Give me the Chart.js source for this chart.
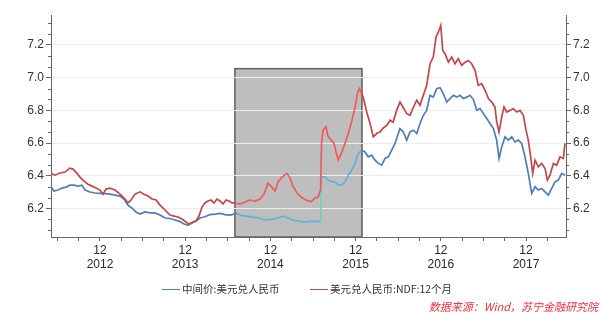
<!DOCTYPE html>
<html><head><meta charset="utf-8">
<script src="https://cdn.jsdelivr.net/npm/chart.js@4.4.1/dist/chart.umd.min.js"></script>
<style>
html,body{margin:0;padding:0;background:#fff;}
#wrap{position:relative;width:600px;height:317px;overflow:hidden;background:#fff;}
canvas{position:absolute;left:0;top:0;}
.leg{position:absolute;top:282px;font-size:10.5px;font-family:"Noto Sans CJK SC",sans-serif;color:#333;white-space:nowrap;line-height:14px;}
.leg i{display:inline-block;width:18px;height:0;border-top:1.5px solid;vertical-align:middle;margin-right:2px;position:relative;top:-1px;}
#src{position:absolute;right:2px;top:299px;font-size:11px;font-style:italic;font-family:"Noto Sans CJK SC",sans-serif;color:#e8323c;line-height:14px;white-space:nowrap;}
</style></head>
<body>
<div id="wrap">
<canvas id="c" width="600" height="317"></canvas>
<div class="leg" id="leg0" style="left:162px"></div>
<div class="leg" id="leg1" style="left:310px"></div>
<div id="src">数据来源：Wind，苏宁金融研究院</div>
</div>
<script>
// x unit: months since Jan 2012 (0 = Jan 2012)
const seriesNames = ['中间价:美元兑人民币', '美元兑人民币:NDF:12个月'];

const midX = [4.10,4.52,5.08,5.65,6.21,6.77,7.34,7.90,8.46,8.89,9.59,10.30,11.00,11.70,12.41,13.11,13.82,14.38,14.94,15.51,16.07,16.63,17.34,18.04,18.75,19.45,20.15,20.86,21.56,22.27,22.83,23.39,23.96,24.52,25.08,25.79,26.49,27.20,27.90,28.61,29.31,29.87,30.29,31.00,31.70,32.41,33.11,33.96,34.66,35.37,36.07,36.77,37.20,37.76,38.46,39.17,39.87,40.58,41.28,42.06,42.23,42.69,43.11,43.63,44.10,44.56,45.04,45.51,45.97,46.45,46.92,47.38,47.86,48.32,48.79,49.27,49.73,50.20,50.68,51.14,51.61,52.08,52.55,53.01,53.25,53.72,54.20,54.66,55.13,55.61,56.07,56.54,57.01,57.48,57.94,58.42,58.89,59.35,59.83,60.30,60.76,61.24,61.70,62.17,62.65,63.11,63.58,64.06,64.52,65.00,65.47,65.93,66.41,66.87,67.20,67.58,68.04,68.51,68.99,69.45,69.92,70.39,70.86,71.32,71.80,72.27,72.73,73.21,73.68,74.14,74.62,75.08,75.55,76.03,76.49];
const midY = [6.333,6.307,6.313,6.325,6.331,6.343,6.343,6.337,6.343,6.313,6.301,6.295,6.293,6.291,6.288,6.282,6.276,6.258,6.221,6.203,6.179,6.166,6.179,6.173,6.173,6.160,6.142,6.139,6.130,6.120,6.105,6.099,6.112,6.124,6.142,6.150,6.163,6.166,6.170,6.163,6.160,6.166,6.170,6.157,6.154,6.148,6.145,6.133,6.130,6.136,6.142,6.154,6.148,6.136,6.127,6.121,6.118,6.121,6.121,6.120,6.394,6.394,6.374,6.363,6.363,6.343,6.343,6.363,6.404,6.435,6.476,6.537,6.557,6.546,6.516,6.526,6.496,6.476,6.465,6.506,6.516,6.557,6.598,6.659,6.689,6.668,6.618,6.668,6.679,6.659,6.720,6.770,6.800,6.892,6.881,6.933,6.939,6.902,6.851,6.872,6.892,6.881,6.892,6.872,6.881,6.892,6.866,6.800,6.811,6.780,6.750,6.720,6.689,6.618,6.506,6.577,6.638,6.618,6.638,6.607,6.618,6.598,6.516,6.415,6.293,6.333,6.313,6.323,6.302,6.282,6.323,6.363,6.374,6.415,6.404];

const ndfX = [4.10,4.66,5.37,6.07,6.77,7.20,7.76,8.18,8.75,9.31,9.87,10.44,11.00,11.42,11.85,12.41,13.11,13.82,14.52,14.94,15.37,15.93,16.63,17.20,17.76,18.32,18.89,19.45,20.15,20.86,21.42,21.99,22.55,23.11,23.54,24.10,24.52,24.94,25.37,25.79,26.21,26.63,27.06,27.48,27.90,28.32,28.75,29.17,29.59,30.01,30.72,31.42,32.13,32.83,33.54,34.10,34.66,35.08,35.65,36.07,36.63,37.34,37.76,38.18,38.75,39.31,40.01,40.72,41.28,41.70,42.06,42.20,42.41,42.83,43.11,43.54,43.96,44.24,44.56,44.94,45.51,45.97,46.49,46.92,47.24,47.52,47.86,48.18,48.61,49.03,49.49,50.01,50.44,50.86,51.42,51.85,52.27,52.79,53.25,53.68,54.20,54.66,55.13,55.61,56.07,56.54,57.01,57.48,57.94,58.32,58.65,58.99,59.27,59.59,60.06,60.54,61.00,61.46,61.94,62.41,62.87,63.35,63.82,64.28,64.76,65.23,65.70,66.17,66.63,66.87,67.20,67.58,67.90,68.28,68.75,69.21,69.69,70.15,70.62,71.00,71.32,71.66,71.94,72.27,72.73,73.21,73.68,74.00,74.38,74.85,75.32,75.79,76.25,76.49];
const ndfY = [6.415,6.404,6.417,6.423,6.447,6.441,6.415,6.392,6.368,6.349,6.337,6.325,6.313,6.288,6.319,6.325,6.313,6.288,6.258,6.234,6.252,6.288,6.302,6.288,6.276,6.258,6.252,6.221,6.191,6.160,6.154,6.148,6.136,6.118,6.105,6.118,6.124,6.154,6.209,6.234,6.246,6.252,6.234,6.258,6.246,6.228,6.252,6.246,6.234,6.234,6.228,6.240,6.252,6.246,6.258,6.288,6.355,6.337,6.307,6.362,6.392,6.415,6.386,6.337,6.295,6.270,6.252,6.241,6.264,6.270,6.313,6.599,6.679,6.699,6.643,6.618,6.599,6.545,6.496,6.533,6.599,6.660,6.740,6.819,6.902,6.933,6.904,6.862,6.782,6.721,6.638,6.660,6.668,6.691,6.709,6.740,6.728,6.800,6.851,6.819,6.780,6.770,6.819,6.862,6.831,6.892,6.953,7.085,7.126,7.248,7.278,7.319,7.166,7.146,7.095,7.126,7.085,7.116,7.075,7.095,7.105,7.085,7.045,6.953,6.963,6.923,6.872,6.851,6.821,6.729,6.668,6.760,6.821,6.790,6.800,6.811,6.790,6.800,6.770,6.679,6.618,6.516,6.415,6.496,6.455,6.476,6.445,6.374,6.404,6.476,6.465,6.516,6.506,6.598];

const xMajorTicks = [11, 23, 35, 47, 59, 71];
const xTickLabels = [['12','2012'],['12','2013'],['12','2014'],['12','2015'],['12','2016'],['12','2017']];
const xMinorTicks = [5,8,14,17,20,26,29,32,38,41,44,50,53,56,62,65,68,74];
const yMajorTicks = [6.2, 6.4, 6.6, 6.8, 7.0, 7.2];
const yMinorTicks = [6.0667,6.1333,6.2667,6.3333,6.4667,6.5333,6.6667,6.7333,6.8667,6.9333,7.0667,7.1333,7.2667,7.3333];
const xRange = [4.10, 76.63];
const yRange = [6.026, 7.383];
const shadeX = [30.0, 47.9];
const shadeTop = 7.055;

const colors = {
  mid: '#4f7db5', midIn: '#5fb2d8', midJump: '#6fd2bc',
  ndf: '#c0484c', ndfIn: '#f05a5c'
};

const tickFont = {family: '"Liberation Sans Narrow","Liberation Sans",Arial,sans-serif', size: 12};

document.getElementById('leg0').innerHTML = '<i style="border-color:'+colors.mid+'"></i>' + seriesNames[0];
document.getElementById('leg1').innerHTML = '<i style="border-color:'+colors.ndf+'"></i>' + seriesNames[1];

const inShade = c => c.p0.parsed.x >= shadeX[0] - 0.001 && c.p1.parsed.x <= shadeX[1] + 0.001;

const shadePlugin = {
  id: 'shade',
  beforeDraw(chart) {
    const {ctx, scales: {x, y}} = chart;
    const l = x.getPixelForValue(shadeX[0]), r = x.getPixelForValue(shadeX[1]);
    const t = y.getPixelForValue(shadeTop), b = y.getPixelForValue(yRange[0]);
    ctx.save();
    ctx.fillStyle = '#bebebe';
    ctx.fillRect(l, t, r - l, b - t);
    ctx.strokeStyle = '#5e5e5e';
    ctx.lineWidth = 1.5;
    ctx.strokeRect(l, t, r - l, b - t);
    ctx.restore();
  }
};

const minorTickPlugin = {
  id: 'minorTicks',
  afterDraw(chart) {
    const {ctx, scales: {y, y2}} = chart;
    ctx.save();
    ctx.strokeStyle = '#666';
    ctx.lineWidth = 1;
    ctx.beginPath();
    yMinorTicks.forEach(v => {
      const p = Math.round(y.getPixelForValue(v)) + 0.5;
      ctx.moveTo(y.right - 3, p); ctx.lineTo(y.right, p);
      ctx.moveTo(y2.left, p); ctx.lineTo(y2.left + 3, p);
    });
    ctx.stroke();
    ctx.restore();
  }
};

const allXTicks = xMajorTicks.concat(xMinorTicks).sort((a, b) => a - b);

new Chart(document.getElementById('c'), {
  type: 'line',
  data: {
    datasets: [
      {
        label: seriesNames[0],
        data: midX.map((x, i) => ({x, y: midY[i]})),
        borderColor: colors.mid, borderWidth: 1.7, pointRadius: 0, tension: 0, order: 1,
        segment: {
          borderColor: c => inShade(c) ? (Math.abs(c.p1.parsed.y - c.p0.parsed.y) > 0.1 ? colors.midJump : colors.midIn) : colors.mid
        }
      },
      {
        label: seriesNames[1],
        data: ndfX.map((x, i) => ({x, y: ndfY[i]})),
        borderColor: colors.ndf, borderWidth: 1.7, pointRadius: 0, tension: 0, order: 0,
        segment: {
          borderColor: c => inShade(c) ? colors.ndfIn : colors.ndf
        }
      }
    ]
  },
  options: {
    responsive: false, animation: false, devicePixelRatio: 1,
    layout: {padding: {top: 15, bottom: 40, left: 0, right: 0}},
    plugins: {legend: {display: false}, tooltip: {enabled: false}},
    scales: {
      x: {
        type: 'linear', min: xRange[0], max: xRange[1],
        afterBuildTicks: s => { s.ticks = allXTicks.map(v => ({value: v})); },
        afterFit: s => { s.height = 40; },
        grid: {drawOnChartArea: false, tickLength: 4, tickColor: '#666'},
        border: {display: true, color: '#666', width: 1},
        ticks: {
          autoSkip: false, maxRotation: 0, minRotation: 0, padding: 2, color: '#2a2a2a', font: tickFont,
          callback: v => { const i = xMajorTicks.indexOf(v); return i >= 0 ? xTickLabels[i] : ''; }
        }
      },
      y: {
        type: 'linear', position: 'left', min: yRange[0], max: yRange[1],
        afterBuildTicks: s => { s.ticks = yMajorTicks.map(v => ({value: v})); },
        afterFit: s => { s.width = 51; },
        grid: {color: '#ededed', tickLength: 5, tickColor: '#666', drawTicks: true},
        border: {display: true, color: '#666', width: 1},
        ticks: {padding: 2, color: '#333', font: tickFont, callback: v => Number(v).toFixed(1)}
      },
      y2: {
        type: 'linear', axis: 'y', position: 'right', min: yRange[0], max: yRange[1],
        afterBuildTicks: s => { s.ticks = yMajorTicks.map(v => ({value: v})); },
        afterFit: s => { s.width = 34; },
        grid: {drawOnChartArea: false, tickLength: 5, tickColor: '#666'},
        border: {display: true, color: '#666', width: 1},
        ticks: {padding: 2, color: '#333', font: tickFont, callback: v => Number(v).toFixed(1)}
      }
    }
  },
  plugins: [shadePlugin, minorTickPlugin]
});
</script>
</body></html>
